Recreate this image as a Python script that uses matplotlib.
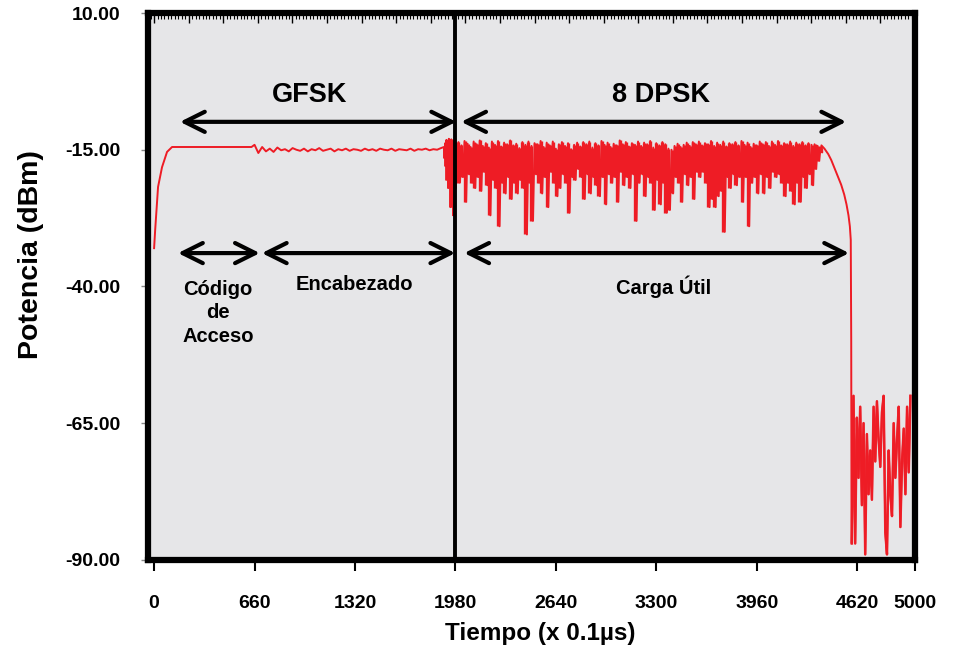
import numpy as np
import matplotlib
matplotlib.use('Agg')
import matplotlib.pyplot as plt
from matplotlib.ticker import FormatStrFormatter, MultipleLocator

plt.rcParams['font.family'] = ['Liberation Sans', 'DejaVu Sans']
plt.rcParams['font.weight'] = 'bold'

RED = '#ee1c25'

# rampa de subida al inicio de la rafaga
rise_t = [0, 7, 26, 52, 85, 118, 640]
rise_p = [-33.0, -29.7, -21.8, -18.2, -15.4, -14.5, -14.5]

# encabezado GFSK, una muestra cada 25
hdr_t0, hdr_dt = 660, 25
hdr_p = [-14.1, -15.6, -14.5, -15.3, -14.8, -15.4, -14.6, -15.1, -14.9, -15.3,
         -14.7, -15.0, -15.2, -14.8, -15.3, -14.9, -15.1, -14.7, -15.2, -15.0,
         -14.8, -15.3, -14.9, -15.1, -14.8, -15.2, -14.9, -15.0, -15.2, -14.8,
         -15.1, -14.9, -15.2, -14.8, -15.0, -15.1, -14.8, -15.2, -14.9, -15.0,
         -15.1, -14.8, -15.2, -14.9, -15.0, -14.8, -15.1, -14.9, -15.0, -14.7]

# transicion GFSK -> 8DPSK: maximo y minimo por cada paso de 8
trans_t0, trans_dt = 1905, 8
trans_hi = [-14.5, -13.8, -13.2, -13.5, -13.0, -13.4, -13.1, -13.6, -13.3, -13.5, -13.8]
trans_lo = [-16.5, -18.0, -20.5, -22.0, -19.0, -25.5, -21.0, -27.0, -24.0, -22.0, -18.5]

# carga util 8DPSK: maximo y minimo por cada paso de 20
dpsk_t0, dpsk_dt = 2000, 20
dpsk_hi = [-13.6, -14.2, -13.4, -13.9, -14.5, -13.5, -14.0, -13.3, -14.3, -13.8,
           -14.6, -13.5, -14.1, -13.4, -14.4, -13.7, -14.0, -13.3, -14.2, -13.9,
           -14.7, -13.6, -14.1, -13.5, -14.3, -13.8, -14.0, -13.4, -14.5, -13.7,
           -14.2, -13.5, -14.8, -14.0, -13.6, -14.3, -13.8, -14.9, -14.1, -13.7,
           -14.4, -13.6, -14.0, -13.5, -14.6, -13.8, -14.2, -13.4, -14.1, -13.7,
           -14.5, -13.9, -14.2, -13.3, -14.0, -13.6, -14.4, -13.8, -14.1, -13.5,
           -14.3, -13.7, -14.0, -13.4, -14.6, -13.8, -14.2, -13.6, -14.0, -14.8,
           -15.0, -14.3, -13.9, -14.5, -14.1, -13.7, -14.3, -13.6, -14.0, -13.5,
           -14.2, -13.8, -14.0, -13.4, -14.3, -13.7, -14.1, -13.5, -14.4, -13.8,
           -14.0, -13.6, -14.2, -13.4, -14.1, -13.7, -14.5, -13.9, -14.2, -13.5,
           -14.0, -13.6, -14.3, -13.5, -14.1, -13.4, -14.2, -13.8, -14.0, -13.5,
           -14.3, -13.7, -14.0, -13.6, -14.2, -13.8, -14.1, -14.0, -14.3, -14.6]
dpsk_lo = [-21.0, -20.0, -24.5, -19.5, -21.0, -22.0, -20.0, -22.5, -19.0, -21.5,
           -27.0, -20.5, -22.0, -29.0, -21.0, -23.0, -20.0, -24.0, -21.0, -23.0,
           -20.5, -22.0, -30.5, -21.0, -28.0, -19.5, -21.0, -23.0, -20.0, -25.5,
           -19.0, -21.0, -23.5, -22.0, -19.5, -21.0, -26.5, -20.0, -20.5, -18.5,
           -20.0, -24.0, -19.5, -23.0, -20.0, -21.5, -23.5, -20.0, -25.0, -19.5,
           -21.0, -20.0, -24.5, -19.0, -21.5, -20.0, -22.0, -19.5, -28.0, -21.0,
           -19.5, -23.5, -20.0, -21.0, -26.0, -20.5, -25.0, -21.0, -26.5, -26.0,
           -23.0, -20.0, -21.0, -24.5, -19.5, -21.5, -20.0, -24.0, -19.0, -20.0,
           -19.0, -21.0, -25.5, -24.0, -25.5, -23.5, -22.5, -30.0, -20.0, -22.0,
           -19.5, -21.5, -20.0, -24.5, -20.0, -29.0, -21.0, -20.0, -23.0, -19.5,
           -23.0, -20.0, -22.0, -19.0, -20.0, -19.5, -21.0, -23.5, -21.0, -22.5,
           -25.0, -21.0, -24.5, -20.0, -22.0, -19.5, -21.5, -18.5, -17.0, -15.5]

# caida al final de la rafaga
fall_t = [4385, 4405, 4430, 4450, 4470, 4495, 4515, 4535, 4550, 4563, 4572, 4578, 4581, 4583]
fall_p = [-14.2, -14.8, -15.8, -16.9, -18.3, -20.0, -21.4, -23.2, -25.0, -27.0,
          -29.0, -31.5, -50.0, -87.0]

# ruido de fondo tras la rafaga, una muestra cada 11
noise_t0, noise_dt = 4585, 11
noise_p = [-87, -60, -87, -64, -75, -62, -80, -65, -89, -67,
           -78, -70, -79, -62, -72, -61, -68, -73, -63, -60,
           -85, -89, -70, -78, -82, -65, -75, -68, -62, -84,
           -72, -66, -78, -62, -74, -60]


def zigzag(t0, dt, hi, lo):
    tt = np.empty(2 * len(hi))
    tt[0::2] = t0 + dt * np.arange(len(hi))
    tt[1::2] = tt[0::2] + dt / 2
    pp = np.empty(2 * len(hi))
    pp[0::2] = hi
    pp[1::2] = lo
    return tt, pp


hdr_t = hdr_t0 + hdr_dt * np.arange(len(hdr_p))
trans_t, trans_p = zigzag(trans_t0, trans_dt, trans_hi, trans_lo)
dpsk_t, dpsk_p = zigzag(dpsk_t0, dpsk_dt, dpsk_hi, dpsk_lo)
noise_t = noise_t0 + noise_dt * np.arange(len(noise_p))

t = np.concatenate([rise_t, hdr_t, trans_t, dpsk_t, fall_t, noise_t])
p = np.concatenate([rise_p, hdr_p, trans_p, dpsk_p, fall_p, noise_p])

fig = plt.figure(figsize=(9.58, 6.51), dpi=100)
ax = fig.add_axes([0.1545, 0.14, 0.8006, 0.84])
ax.set_facecolor('#e6e6e8')
ax.plot(t, p, color=RED, lw=1.4)
# relleno de las zonas moduladas
ax.vlines(trans_t[0::2], trans_lo, trans_hi, color=RED, lw=2.0)
ax.vlines(dpsk_t[0::2], dpsk_lo, dpsk_hi, color=RED, lw=2.4)
ax.plot(noise_t, noise_p, color=RED, lw=1.8, alpha=0.9)
ax.axvline(1980, color='black', lw=2.8)

ax.set_xlim(-40, 5000)
ax.set_ylim(-90, 10)
ax.set_xticks([0, 660, 1320, 1980, 2640, 3300, 3960, 4620, 5000])
ax.set_yticks([-90, -65, -40, -15, 10])
ax.yaxis.set_major_formatter(FormatStrFormatter('%.2f'))
ax.tick_params(axis='x', direction='out', length=8, width=1.5, pad=17, labelsize=14)
ax.tick_params(axis='y', direction='out', length=5, width=1, color='#888888', pad=15, labelsize=14)
for lbl in ax.get_xticklabels() + ax.get_yticklabels():
    lbl.set_fontweight('bold')
for s in ax.spines.values():
    s.set_linewidth(4.5)

# regla de marcas en el borde superior
top = ax.twiny()
top.set_xlim(ax.get_xlim())
top.xaxis.set_major_locator(MultipleLocator(5000 / 22))
top.xaxis.set_minor_locator(MultipleLocator(5000 / 220))
top.tick_params(axis='x', which='major', direction='in', length=7, width=1, labeltop=False)
top.tick_params(axis='x', which='minor', direction='in', length=4, width=0.8)

ax.set_xlabel('Tiempo (x 0.1\u00b5s)', fontsize=17.5, fontweight='bold')
ax.xaxis.set_label_coords(0.511, -0.113)
ax.set_ylabel('Potencia (dBm)', fontsize=20.5, fontweight='bold', va='center')
ax.yaxis.set_label_coords(-0.153, 0.559)

arrow = dict(arrowstyle='<->, head_length=0.5, head_width=0.25', lw=3, color='black',
             mutation_scale=29, shrinkA=0, shrinkB=0)
ax.annotate('', xy=(1985, -9.9), xytext=(170, -9.9), arrowprops=arrow)
ax.annotate('', xy=(4548, -9.9), xytext=(2018, -9.9), arrowprops=arrow)
ax.annotate('', xy=(695, -33.9), xytext=(157, -33.9), arrowprops=arrow)
ax.annotate('', xy=(1979, -33.9), xytext=(708, -33.9), arrowprops=arrow)
ax.annotate('', xy=(4567, -33.9), xytext=(2038, -33.9), arrowprops=arrow)

ax.text(1022, -5, 'GFSK', ha='center', va='center', fontsize=19.5, fontweight='bold')
ax.text(3329, -5, '8 DPSK', ha='center', va='center', fontsize=19.5, fontweight='bold')
ax.text(419, -44.8, 'C\u00f3digo\nde\nAcceso', ha='center', va='center', fontsize=14.5,
        fontweight='bold', linespacing=1.3)
ax.text(1317, -39.7, 'Encabezado', ha='center', va='center', fontsize=14.5, fontweight='bold')
ax.text(3349, -40, 'Carga \u00datil', ha='center', va='center', fontsize=14.5, fontweight='bold')

fig.savefig('out.png', dpi=100)
